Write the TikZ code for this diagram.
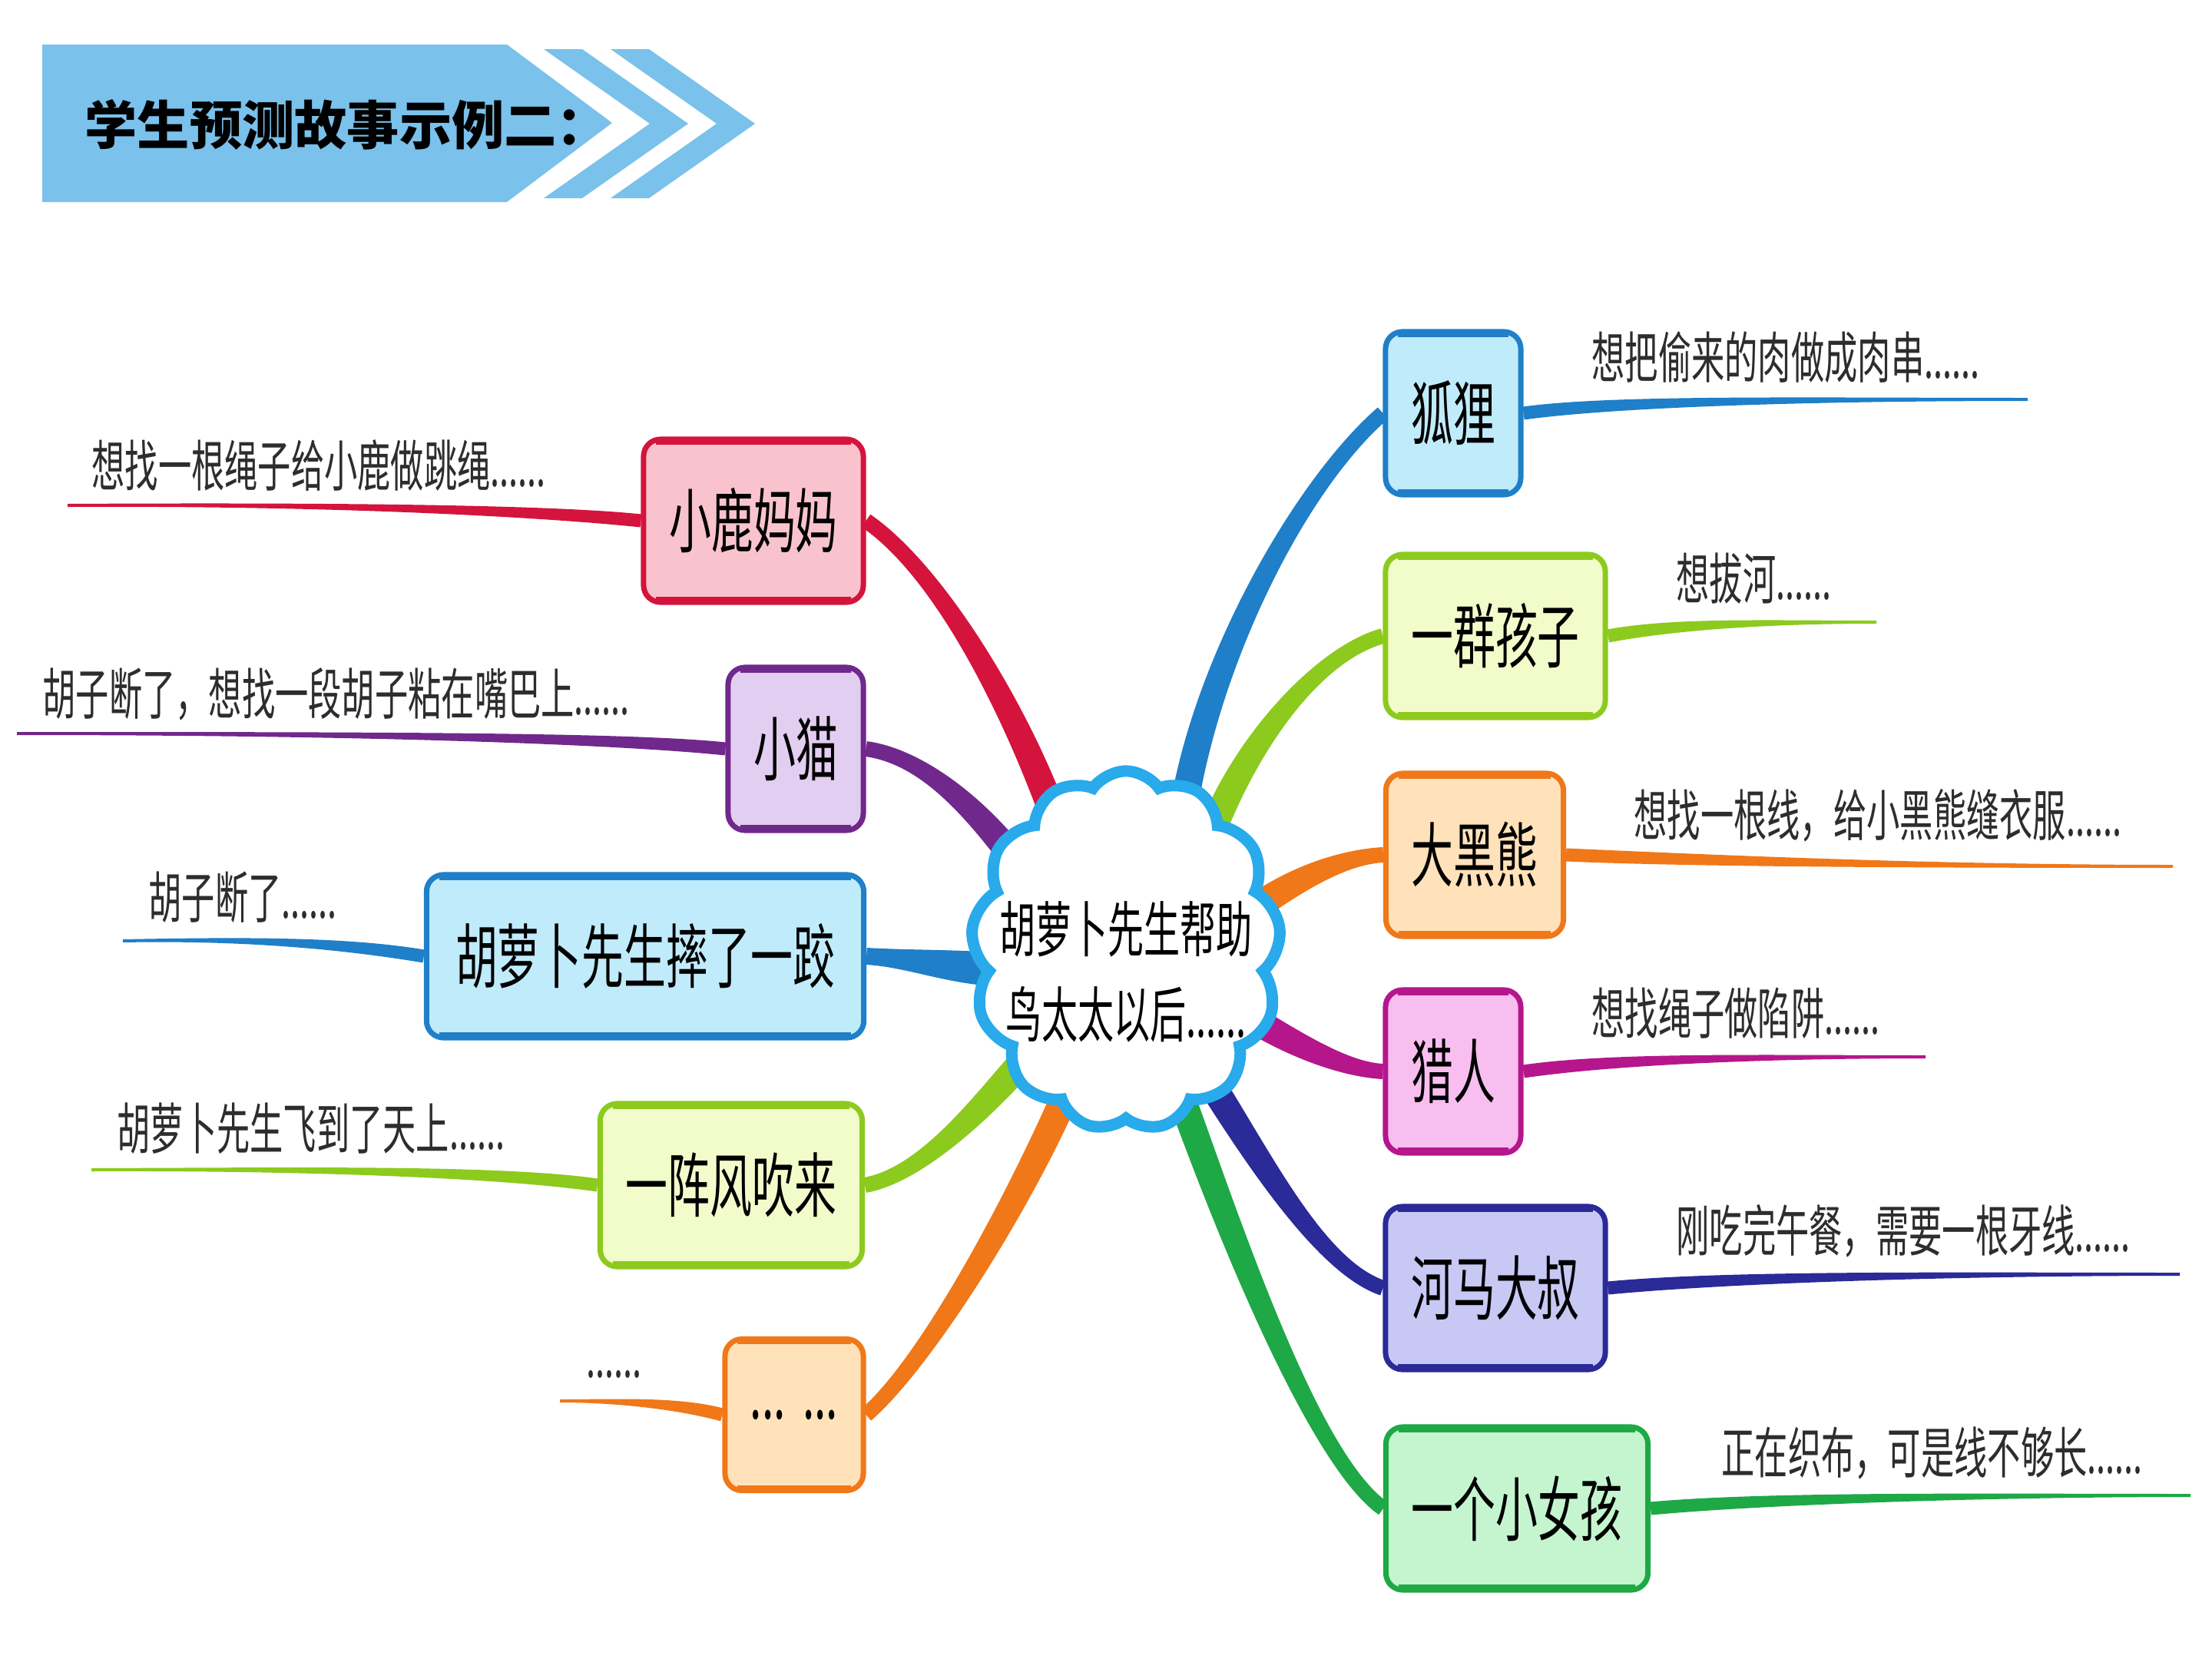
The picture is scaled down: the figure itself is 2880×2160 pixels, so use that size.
\documentclass[tikz,border=0pt]{standalone}
\usepackage{fontspec}
\usetikzlibrary{calc,shapes.symbols}
\newfontfamily\cjk{Noto Sans CJK SC}[FakeStretch=0.6]
\newfontfamily\cjktitle{Noto Sans CJK SC}
\definecolor{cRed}{RGB}{212,20,60}
\definecolor{fRed}{RGB}{249,195,206}
\definecolor{cPur}{RGB}{112,40,140}
\definecolor{fPur}{RGB}{226,206,240}
\definecolor{cBlue}{RGB}{31,127,200}
\definecolor{fBlue}{RGB}{192,235,250}
\definecolor{cLime}{RGB}{140,202,30}
\definecolor{fLime}{RGB}{242,251,202}
\definecolor{cOra}{RGB}{240,120,25}
\definecolor{fOra}{RGB}{255,226,186}
\definecolor{cMag}{RGB}{182,22,140}
\definecolor{fMag}{RGB}{248,190,240}
\definecolor{cNavy}{RGB}{42,42,152}
\definecolor{fNavy}{RGB}{200,200,245}
\definecolor{cGrn}{RGB}{30,168,70}
\definecolor{fGrn}{RGB}{196,245,207}
\definecolor{cCloud}{RGB}{40,170,235}
\definecolor{cBanner}{RGB}{122,193,235}
\definecolor{leafgray}{RGB}{45,45,45}
\pgfdeclarelayer{bg}
\pgfdeclarelayer{paper}
\pgfsetlayers{paper,bg,main}
\newcommand{\twig}[7]{%
  \path ($(#2)!#6!90:(#3)$) coordinate (tA1)
        ($(#2)!#6!-90:(#3)$) coordinate (tA2)
        ($(#5)!#7!-90:(#4)$) coordinate (tB1)
        ($(#5)!#7!90:(#4)$) coordinate (tB2);
  \fill[#1] (tA1) .. controls ($(#3)+(tA1)-(#2)$) and ($(#4)+(tB1)-(#5)$) .. (tB1)
     -- (tB2) .. controls ($(#4)+(tB2)-(#5)$) and ($(#3)+(tA2)-(#2)$) .. (tA2) -- cycle;
}
\begin{document}
\begin{tikzpicture}[x=0.01cm,y=-0.01cm,
  mbox/.style n args={3}{draw=#1, fill=#2, minimum width=#3, minimum height=2.12cm,
    rounded corners=0.22cm, line width=0.07cm, inner sep=0pt,
    font=\cjk\fontsize{26pt}{30pt}\selectfont, text=black},
  leaf/.style={anchor=west, inner sep=0pt, text=leafgray,
    font=\cjk\fontsize{20.5pt}{24pt}\selectfont},
  ]
\useasboundingbox (0,0) rectangle (2880,2160);
\begin{pgfonlayer}{paper}
\fill[white] (0,0) rectangle (2880,2160);
\end{pgfonlayer}

% title banner
\fill[cBanner] (55,58) -- (660,58) -- (797,160) -- (660,263) -- (55,263) -- cycle;
\fill[cBanner] (708,64) -- (758,64) -- (896,161) -- (758,258) -- (708,258) -- (846,161) -- cycle;
\fill[cBanner] (795,64) -- (845,64) -- (983,161) -- (845,258) -- (795,258) -- (933,161) -- cycle;
\node[anchor=west, inner sep=0pt, font=\cjktitle\bfseries\fontsize{19.4pt}{22pt}\selectfont] (title) at (110,162) {学生预测故事示例二：};

% boxes left
\node[mbox={cRed}{fRed}{2.86cm}] (lm) at (981,678) {小鹿妈妈};
\node[mbox={cPur}{fPur}{1.76cm}] (xm) at (1036,975) {小猫};
\node[mbox={cBlue}{fBlue}{5.69cm}] (hl) at (840,1245) {胡萝卜先生摔了一跤};
\node[mbox={cLime}{fLime}{3.41cm}] (yf) at (952,1543) {一阵风吹来};
\node[mbox={cOra}{fOra}{1.80cm}, minimum height=1.97cm] (dd) at (1034,1842) {...\hspace{0.25em}...};
% boxes right
\node[mbox={cBlue}{fBlue}{1.76cm}] (hu) at (1892,538) {狐狸};
\node[mbox={cLime}{fLime}{2.86cm}] (qh) at (1947,828) {一群孩子};
\node[mbox={cOra}{fOra}{2.31cm}] (dx) at (1920,1113) {大黑熊};
\node[mbox={cMag}{fMag}{1.76cm}] (lr) at (1892,1395) {猎人};
\node[mbox={cNavy}{fNavy}{2.86cm}] (hm) at (1947,1677) {河马大叔};
\node[mbox={cGrn}{fGrn}{3.41cm}] (nh) at (1975,1964) {一个小女孩};

\foreach \n/\c in {lm/cRed,xm/cPur,hl/cBlue,yf/cLime,dd/cOra,hu/cBlue,qh/cLime,dx/cOra,lr/cMag,hm/cNavy,nh/cGrn}{
  \draw[\c, line width=0.05cm] ([xshift=0.2cm,yshift=-0.08cm]\n.north west) -- ([xshift=-0.2cm,yshift=-0.08cm]\n.north east);
  \draw[\c, line width=0.05cm] ([xshift=0.2cm,yshift=0.08cm]\n.south west) -- ([xshift=-0.2cm,yshift=0.08cm]\n.south east);
}

% centre cloud
\node[cloud, cloud puffs=13, cloud puff arc=110, cloud ignores aspect, draw=cCloud, fill=white,
  line width=0.15cm, minimum width=4.03cm, minimum height=4.68cm, inner sep=0pt] (ctr) at (1466,1238) {};
\node[align=center, inner sep=0pt, font=\cjk\fontsize{22.3pt}{31.6pt}\selectfont] (ctrtext) at (1466,1265) {胡萝卜先生帮助\\鸟太太以后......};

% leaf texts
\node[leaf] (tlm) at (119,606) {想找一根绳子给小鹿做跳绳......};
\node[leaf] (txm) at (55,904) {胡子断了，想找一段胡子粘在嘴巴上......};
\node[leaf] (thl) at (193,1168) {胡子断了......};
\node[leaf] (tyf) at (152,1469) {胡萝卜先生飞到了天上......};
\node[leaf] (tdd) at (763,1789) {......};
\node[leaf] (thu) at (2072,465) {想把偷来的肉做成肉串......};
\node[leaf] (tqh) at (2182,753) {想拔河......};
\node[leaf] (tdx) at (2127,1062) {想找一根线，给小黑熊缝衣服......};
\node[leaf] (tlr) at (2072,1319) {想找绳子做陷阱......};
\node[leaf] (thm) at (2182,1603) {刚吃完午餐，需要一根牙线......};
\node[leaf] (tnh) at (2241,1892) {正在织布，可是线不够长......};

% free ends of leaf lines
\coordinate (elm) at (88,658);
\coordinate (exm) at (22,955);
\coordinate (ehl) at (160,1225);
\coordinate (eyf) at (119,1523);
\coordinate (edd) at (729,1824);
\coordinate (ehu) at (2640,520);
\coordinate (eqh) at (2443,810);
\coordinate (edx) at (2829,1128);
\coordinate (elr) at (2507,1376);
\coordinate (ehm) at (2838,1659);
\coordinate (enh) at (2852,1947);
% branch starts inside the cloud
\coordinate (sRed) at (1375,1070);
\coordinate (sPur) at (1330,1130);
\coordinate (sHl) at (1295,1262);
\coordinate (sYf) at (1335,1378);
\coordinate (sDd) at (1390,1420);
\coordinate (sHu) at (1540,1060);
\coordinate (sQh) at (1575,1090);
\coordinate (sDx) at (1630,1185);
\coordinate (sLr) at (1620,1320);
\coordinate (sHm) at (1570,1400);
\coordinate (sNh) at (1535,1420);

\begin{pgfonlayer}{bg}
% leaf lines
\twig{cRed}{lm.west}{720,666}{450,656}{elm}{0.085cm}{0.02cm}
\twig{cPur}{xm.west}{820,962}{500,955}{exm}{0.085cm}{0.02cm}
\twig{cBlue}{hl.west}{450,1228}{320,1222}{ehl}{0.085cm}{0.02cm}
\twig{cLime}{yf.west}{650,1525}{400,1522}{eyf}{0.085cm}{0.02cm}
\twig{cOra}{dd.west}{880,1826}{800,1824}{edd}{0.085cm}{0.02cm}
\twig{cBlue}{hu.east}{2100,522}{2350,520}{ehu}{0.085cm}{0.02cm}
\twig{cLime}{qh.east}{2180,812}{2300,810}{eqh}{0.085cm}{0.02cm}
\twig{cOra}{dx.east}{2200,1120}{2500,1128}{edx}{0.085cm}{0.02cm}
\twig{cMag}{lr.east}{2100,1378}{2300,1376}{elr}{0.085cm}{0.02cm}
\twig{cNavy}{hm.east}{2250,1662}{2550,1659}{ehm}{0.085cm}{0.02cm}
\twig{cGrn}{nh.east}{2300,1950}{2600,1947}{enh}{0.085cm}{0.02cm}
% main branches
\twig{cRed}{sRed}{1325,930}{1225,745}{lm.east}{0.18cm}{0.1cm}
\twig{cPur}{sPur}{1270,1050}{1200,985}{xm.east}{0.18cm}{0.1cm}
\twig{cBlue}{sHl}{1230,1258}{1180,1248}{hl.east}{0.22cm}{0.11cm}
\twig{cLime}{sYf}{1280,1440}{1200,1530}{yf.east}{0.18cm}{0.1cm}
\twig{cOra}{sDd}{1320,1580}{1200,1780}{dd.east}{0.18cm}{0.1cm}
\twig{cBlue}{sHu}{1570,860}{1694,630}{hu.west}{0.18cm}{0.1cm}
\twig{cLime}{sQh}{1625,960}{1720,850}{qh.west}{0.18cm}{0.1cm}
\twig{cOra}{sDx}{1700,1135}{1760,1115}{dx.west}{0.18cm}{0.1cm}
\twig{cMag}{sLr}{1700,1370}{1760,1393}{lr.west}{0.18cm}{0.1cm}
\twig{cNavy}{sHm}{1640,1510}{1720,1650}{hm.west}{0.18cm}{0.1cm}
\twig{cGrn}{sNh}{1600,1600}{1710,1900}{nh.west}{0.18cm}{0.1cm}
\end{pgfonlayer}
\end{tikzpicture}
\end{document}
